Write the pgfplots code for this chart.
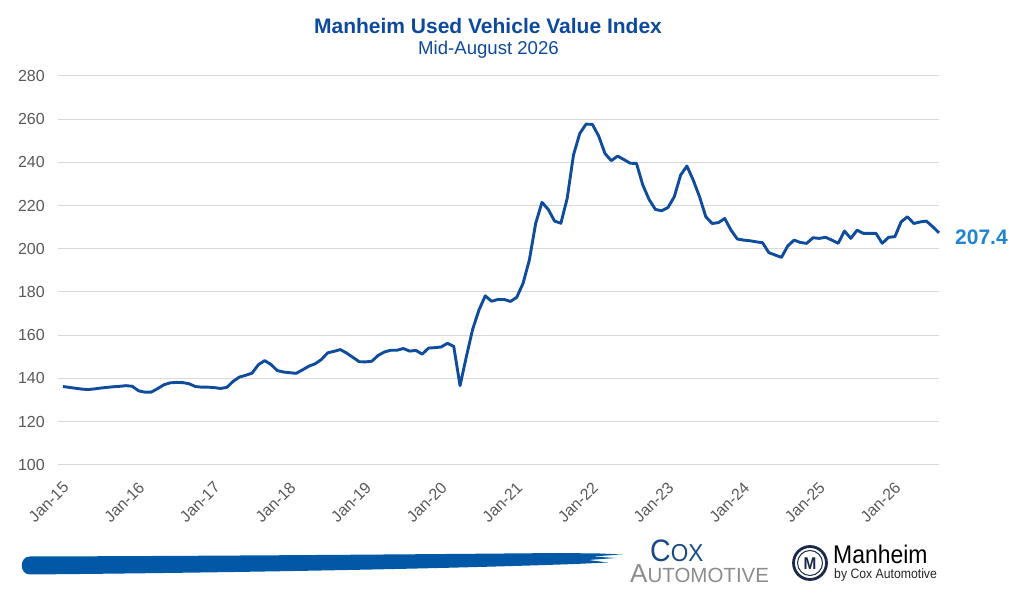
\documentclass[border=0pt]{standalone}
\usepackage{fontspec}
\setmainfont{Liberation Sans}
\newfontfamily\coxfont{Liberation Sans}[FakeStretch=0.92]
\newfontfamily\autofont{Liberation Sans}[FakeStretch=1.0]
\newfontfamily\manfont{Liberation Sans}[FakeStretch=0.9]
\usepackage{pgfplots}
\usepackage{pgfplotstable}
\pgfplotsset{compat=1.18}
\definecolor{linecol}{HTML}{0F4C9C}
\definecolor{titlecol}{HTML}{0D4A9E}
\definecolor{labcol}{HTML}{1F84D2}
\definecolor{gridcol}{HTML}{D9D9D9}
\definecolor{tickcol}{HTML}{595959}
\definecolor{brush}{HTML}{0058A6}
\definecolor{coxblue}{HTML}{1A4A85}
\definecolor{coxgray}{HTML}{8C8C8C}
\definecolor{navy}{HTML}{1B2A4A}

\pgfplotstableread{
m v
0 136.2
1 135.8
2 135.4
3 135.0
4 134.8
5 135.1
6 135.5
7 135.8
8 136.1
9 136.3
10 136.6
11 136.3
12 134.2
13 133.6
14 133.6
15 135.2
16 137.0
17 137.9
18 138.1
19 138.0
20 137.5
21 136.2
22 135.9
23 135.9
24 135.7
25 135.3
26 135.8
27 138.6
28 140.6
29 141.4
30 142.4
31 146.3
32 148.2
33 146.4
34 143.6
35 142.9
36 142.6
37 142.3
38 143.9
39 145.6
40 146.7
41 148.7
42 151.8
43 152.5
44 153.3
45 151.7
46 149.7
47 147.7
48 147.6
49 147.9
50 150.6
51 152.2
52 153.0
53 153.0
54 153.8
55 152.6
56 152.9
57 151.2
58 154.0
59 154.2
60 154.5
61 156.2
62 154.8
63 136.6
64 150.0
65 162.7
66 171.6
67 178.2
68 175.7
69 176.5
70 176.5
71 175.6
72 177.5
73 184.0
74 194.8
75 211.7
76 221.5
77 218.2
78 212.8
79 211.8
80 223.3
81 243.4
82 253.4
83 257.7
84 257.6
85 252.2
86 244.1
87 240.8
88 242.9
89 241.3
90 239.6
91 239.5
92 229.5
93 222.8
94 218.2
95 217.6
96 219.1
97 224.1
98 234.1
99 238.3
100 231.8
101 224.1
102 214.8
103 211.7
104 212.1
105 214.0
106 208.6
107 204.5
108 204.0
109 203.7
110 203.2
111 202.8
112 198.2
113 197.1
114 196.0
115 201.3
116 204.0
117 202.9
118 202.5
119 205.1
120 204.8
121 205.3
122 204.0
123 202.5
124 208.2
125 204.8
126 208.6
127 207.1
128 207.1
129 207.1
130 202.5
131 205.3
132 205.6
133 212.5
134 214.8
135 211.7
136 212.4
137 212.8
138 210.2
139 207.4
}\mvi

\begin{document}
\begin{tikzpicture}
\useasboundingbox (0,0) rectangle (1023pt,601pt);
\begin{axis}[
  at={(58pt,136.3pt)}, anchor=south west,
  scale only axis, width=881pt, height=388.7pt,
  xmin=-0.793, xmax=139, ymin=100, ymax=280,
  ytick={100,120,...,280},
  xtick={0,12,...,132},
  xticklabels={Jan-15,Jan-16,Jan-17,Jan-18,Jan-19,Jan-20,Jan-21,Jan-22,Jan-23,Jan-24,Jan-25,Jan-26},
  axis line style={draw=none},
  major tick length=0pt,
  ymajorgrids,
  grid style={color=gridcol, line width=1pt},
  /pgf/number format/assume math mode=true,
  yticklabel style={font=\fontsize{16}{19}\selectfont, color=tickcol, anchor=east, inner sep=0pt, xshift=-13pt},
  xticklabel style={font=\fontsize{16}{19}\selectfont, color=tickcol, inner sep=0pt, xshift=3pt, yshift=-20pt, rotate=45, anchor=east},
  clip=false,
]
\addplot[color=linecol, line width=2.9pt, line join=round, no markers] table[x=m,y=v]{\mvi};
\node[anchor=west, inner sep=0pt, xshift=16pt, yshift=-5pt, font=\fontsize{21}{24}\selectfont\bfseries, color=labcol] at (axis cs:139,207.4) {207.4};
\end{axis}

\begin{scope}[x=1pt, y=-1pt, yshift=601pt]
% titles
\node[anchor=base, inner sep=0pt, font=\fontsize{21}{24}\selectfont\bfseries, color=titlecol] at (488,33.3) {Manheim Used Vehicle Value Index};
\node[anchor=base, inner sep=0pt, font=\fontsize{18.6}{22}\selectfont, color=titlecol] at (488.5,55) {Mid-August 2026};
% brush stroke
\fill[brush] (30,556.5) .. controls (200,556) and (400,554.5) .. (560,553)
  -- (600,553.5) -- (622,554.5) -- (592,556.5) -- (616,558) -- (588,560) -- (608,562.5) -- (575,564)
  .. controls (450,568.5) and (250,572.5) .. (30,574.5)
  .. controls (19,574.5) and (19,556.5) .. (30,556.5) -- cycle;
% Cox Automotive
\node[anchor=base west, inner sep=0pt, color=coxblue] at (650,562) {\coxfont\fontsize{31}{33}\selectfont C\fontsize{24.5}{26}\selectfont OX};
\node[anchor=base west, inner sep=0pt, color=coxgray] at (630,583) {\autofont\fontsize{26}{28}\selectfont A\fontsize{20.5}{22}\selectfont UTOMOTIVE};
% Manheim logo
\draw[navy, line width=2.8pt] (810,563) circle (16.5);
\draw[navy, line width=1pt] (810,563) circle (12.5);
\node[inner sep=0pt, color=navy, font=\fontsize{17}{18}\selectfont\bfseries] at (810,563.5) {\manfont M};
\node[anchor=base west, inner sep=0pt, color=black] at (833,563.3) {\manfont\fontsize{25.5}{28}\selectfont Manheim};
\node[anchor=base west, inner sep=0pt, color=black!85] at (834,578.5) {\manfont\fontsize{13.6}{15}\selectfont by Cox Automotive};
\end{scope}
\end{tikzpicture}
\end{document}
